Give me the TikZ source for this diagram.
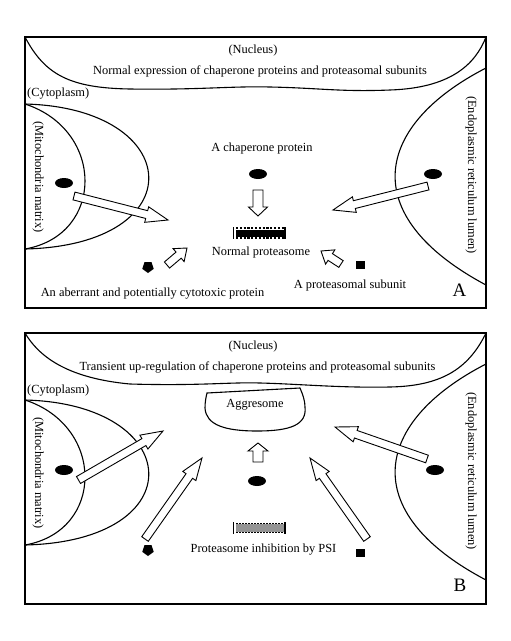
\documentclass[tikz,border=0pt]{standalone}
\usepackage{fontspec}
\setmainfont{Liberation Serif}
\usetikzlibrary{calc,shapes.geometric}
\tikzset{
 frame/.style={line width=1.6pt},
 membrane/.style={line width=1.1pt},
 lbl/.style={font=\fontsize{12.4}{14}\selectfont, inner sep=0pt},
 panellbl/.style={font=\fontsize{19}{22}\selectfont, inner sep=0pt},
 blob/.style={ellipse, fill=black, minimum width=18pt, minimum height=10pt, inner sep=0pt},
 penta/.style={regular polygon, regular polygon sides=5, fill=black, minimum size=12pt, inner sep=0pt, shape border rotate=180},
 subunit/.style={rectangle, fill=black, minimum width=9pt, minimum height=8pt, inner sep=0pt},
 barrow/.style={draw=black, fill=white, line width=0.9pt, line join=miter},
}
\newcommand\blockarr[5]{%
 \draw[barrow] let \p1=(#1), \p2=(#2),
   \n1={atan2(\y2-\y1,\x2-\x1)}, \n2={veclen(\x2-\x1,\y2-\y1)-#5pt},
   \n3={\n1+90}, \n4={\n1-90} in
   ($(\p1)+(\n3:#3pt)$) -- ($(\p1)+(\n1:\n2)+(\n3:#3pt)$) -- ($(\p1)+(\n1:\n2)+(\n3:#4pt)$) -- (\p2)
   -- ($(\p1)+(\n1:\n2)+(\n4:#4pt)$) -- ($(\p1)+(\n1:\n2)+(\n4:#3pt)$) -- ($(\p1)+(\n4:#3pt)$) -- cycle;}
\begin{document}
\begin{tikzpicture}[x=1pt,y=-1pt]
\useasboundingbox (0,0) rectangle (511,641);
\fill[white] (0,0) rectangle (511,641);
%% ---------------- Panel A ----------------
\draw[frame] (25,37) rectangle (486,308);
\draw[membrane] (25,37) .. controls (45,75) and (70,88) .. (130,89) .. controls (200,90) and (230,86) .. (270,87)
  .. controls (320,88) and (340,92) .. (390,90) .. controls (450,88) and (475,65) .. (486,37);
\draw[membrane] (25,104) .. controls (185,108) and (195,245) .. (25,249);
\draw[membrane] (25,104) .. controls (105,130) and (105,235) .. (25,249);
\draw[membrane] (486,68) .. controls (375,125) and (355,215) .. (486,285);
\node[lbl] (nucA) at (253,51) {(Nucleus)};
\node[lbl] (exprA) at (260,71) {Normal expression of chaperone proteins and proteasomal subunits};
\node[lbl, anchor=west] (cytoA) at (27,94) {(Cytoplasm)};
\node[lbl, rotate=-90] (mitoA) at (38,177) {(Mitochondria matrix)};
\node[lbl, rotate=-90] (erA) at (471,175) {(Endoplasmic reticulum lumen)};
\node[lbl] (chaptxtA) at (262,149) {A chaperone protein};
\node[blob] (chapA) at (258,174) {};
\node[blob] (mchapA) at (64,183) {};
\node[blob] (echapA) at (433,174) {};
\coordinate (dA1) at (258,190); \coordinate (dA2) at (258,216);
\blockarr{dA1}{dA2}{5}{9.5}{9}
% normal proteasome
\fill (236,229.5) rectangle (285,236.5);
\draw[line width=1.8pt, dash pattern=on 2.2pt off 1.6pt] (236,228.3) -- (285,228.3);
\draw[line width=1.8pt, dash pattern=on 2.2pt off 1.6pt] (236,237.7) -- (285,237.7);
\draw[line width=0.8pt] (233.5,227) -- (233.5,239);
\draw[line width=1.5pt] (285,227) -- (285,239);
\node[lbl] (protA) at (261,253) {Normal proteasome};
\node[penta] (pentA) at (148,267) {};
\node[subunit] (subA) at (360,264.5) {};
\coordinate (sL1) at (167,265); \coordinate (sL2) at (187,248);
\blockarr{sL1}{sL2}{4}{8.5}{11}
\coordinate (sR1) at (341,264); \coordinate (sR2) at (321,251);
\blockarr{sR1}{sR2}{4}{8.5}{11}
\coordinate (bLA1) at (74,196); \coordinate (bLA2) at (168,220);
\blockarr{bLA1}{bLA2}{4}{8}{22}
\coordinate (bRA1) at (428,186); \coordinate (bRA2) at (333,210);
\blockarr{bRA1}{bRA2}{4}{8}{22}
\node[lbl] (subtxtA) at (350,286) {A proteasomal subunit};
\node[lbl] (abtxtA) at (152.5,294) {An aberrant and potentially cytotoxic protein};
\node[panellbl] (labA) at (459.5,290) {A};
%% ---------------- Panel B ----------------
\draw[frame] (25,333) rectangle (486,604);
\draw[membrane] (25,333) .. controls (38,355) and (65,378) .. (130,384) .. controls (200,386) and (230,382) .. (260,383)
  .. controls (300,384) and (340,388) .. (390,387) .. controls (440,386) and (468,370) .. (486,333);
\draw[membrane] (25,400) .. controls (185,404) and (195,541) .. (25,545);
\draw[membrane] (25,400) .. controls (105,426) and (105,531) .. (25,545);
\draw[membrane] (486,364) .. controls (375,421) and (355,511) .. (486,580);
\node[lbl] (nucB) at (253,347) {(Nucleus)};
\node[lbl] (exprB) at (257.5,367) {Transient up-regulation of chaperone proteins and proteasomal subunits};
\node[lbl, anchor=west] (cytoB) at (27,391) {(Cytoplasm)};
\node[lbl, rotate=-90] (mitoB) at (38,473) {(Mitochondria matrix)};
\node[lbl, rotate=-90] (erB) at (471,471) {(Endoplasmic reticulum lumen)};
\draw[membrane] (207,393) -- (300,388) .. controls (303,395) and (305,401) .. (305,407)
  .. controls (307,425) and (290,431) .. (257,431) .. controls (225,431) and (206,425) .. (205,408)
  .. controls (205,402) and (206,397) .. (207,393) -- cycle;
\node[lbl] (aggB) at (255,405) {Aggresome};
\coordinate (uB1) at (258,462); \coordinate (uB2) at (258,443);
\blockarr{uB1}{uB2}{5}{10}{8}
\node[blob] (chapB) at (257,481) {};
\node[blob] (mchapB) at (64,470) {};
\node[blob] (echapB) at (435,470) {};
% inhibited proteasome
\fill[black!42] (236,524) rectangle (284,532);
\draw[line width=1.2pt, dash pattern=on 1.5pt off 1.5pt] (236,523.3) -- (284,523.3);
\draw[line width=1.2pt, dash pattern=on 1.5pt off 1.5pt] (236,532.5) -- (284,532.5);
\draw[line width=1.2pt] (233.5,522) -- (233.5,534);
\draw[line width=1.6pt] (285,522) -- (285,534);
\node[lbl] (protB) at (263.5,550) {Proteasome inhibition by PSI};
\node[penta] (pentB) at (148,550) {};
\node[subunit] (subB) at (360,553) {};
\coordinate (bLB1) at (78.5,480); \coordinate (bLB2) at (163,431);
\blockarr{bLB1}{bLB2}{4}{8}{22}
\coordinate (mLB1) at (145,539); \coordinate (mLB2) at (202,458);
\blockarr{mLB1}{mLB2}{4}{8}{22}
\coordinate (mRB1) at (367,539); \coordinate (mRB2) at (310,458);
\blockarr{mRB1}{mRB2}{4}{8}{22}
\coordinate (bRB1) at (427,459); \coordinate (bRB2) at (335,427);
\blockarr{bRB1}{bRB2}{4}{8}{22}
\node[panellbl] (labB) at (460,585.5) {B};
\end{tikzpicture}
\end{document}
